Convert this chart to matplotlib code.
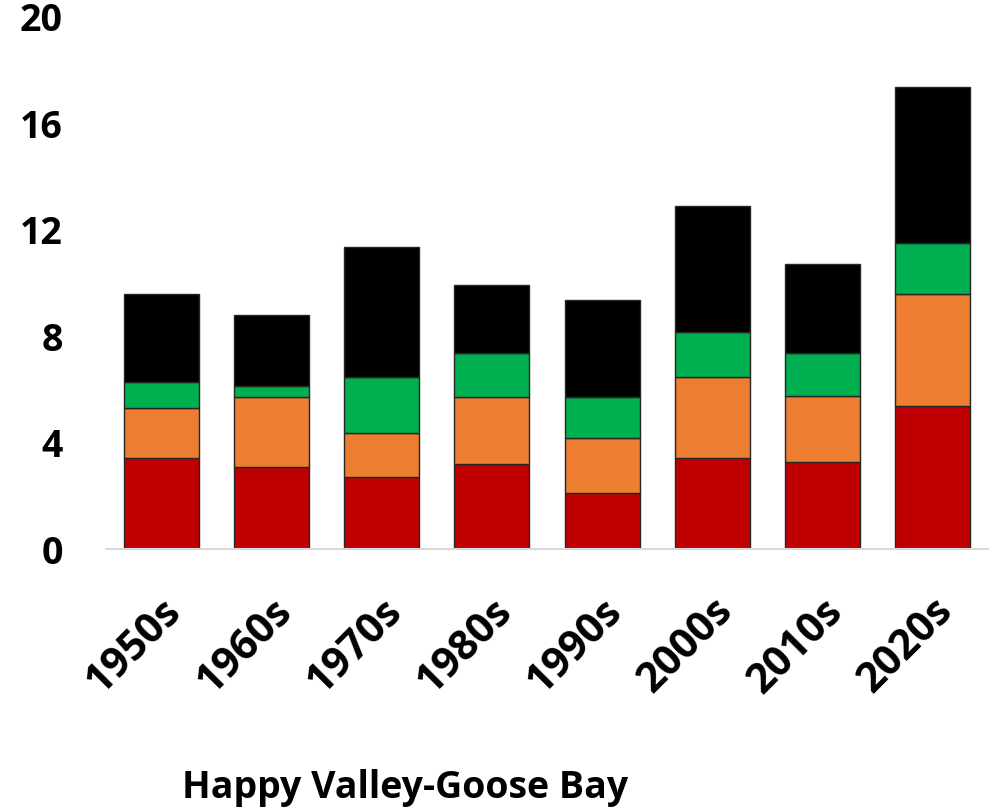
import matplotlib
matplotlib.use("Agg")
import matplotlib.pyplot as plt
import numpy as np

decades = ["1950s", "1960s", "1970s", "1980s", "1990s", "2000s", "2010s", "2020s"]
# cumulative tops, converted to segment heights below
red_top = [3.41, 3.08, 2.69, 3.21, 2.09, 3.41, 3.27, 5.38]
orange_top = [5.30, 5.71, 4.38, 5.70, 4.18, 6.48, 5.76, 9.58]
green_top = [6.26, 6.13, 6.46, 7.37, 5.73, 8.16, 7.38, 11.52]
black_top = [9.60, 8.81, 11.36, 9.92, 9.35, 12.89, 10.73, 17.36]
yticks = [0, 4, 8, 12, 16, 20]
title = "Happy Valley-Goose Bay"

colors = ["#c00000", "#ed7d31", "#00b050", "#000000"]

plt.rcParams["font.family"] = ["Open Sans", "DejaVu Sans"]

fig = plt.figure(figsize=(9.99, 8.08), dpi=100)
ax = fig.add_axes([0.106, 0.3205, 0.883, 0.6585])

x = np.arange(len(decades))
tops = [np.array(red_top), np.array(orange_top), np.array(green_top), np.array(black_top)]
bottom = np.zeros(len(decades))
for top, c in zip(tops, colors):
    ax.bar(x, top - bottom, bottom=bottom, width=0.68, color=c,
           edgecolor="#262626", linewidth=1.0, zorder=2)
    bottom = top

ax.set_xlim(-0.5, len(decades) - 0.5)
ax.set_ylim(0, 20)
ax.set_yticks(yticks)
ax.set_yticklabels([str(v) for v in yticks], fontsize=27, fontweight="bold")
ax.set_xticks(x)
ax.set_xticklabels(decades, fontsize=30, fontweight="bold", rotation=45,
                   ha="right", va="top", rotation_mode="anchor")
ax.tick_params(axis="both", length=0)
ax.tick_params(axis="x", pad=30)
ax.tick_params(axis="y", pad=31)

for s in ["top", "right", "left"]:
    ax.spines[s].set_visible(False)
ax.spines["bottom"].set_color("#d9d9d9")
ax.spines["bottom"].set_linewidth(1.5)

fig.text(0.406, 0.0124, title, fontsize=27, fontweight="bold", ha="center", va="baseline")

fig.savefig("out.png", dpi=100)
